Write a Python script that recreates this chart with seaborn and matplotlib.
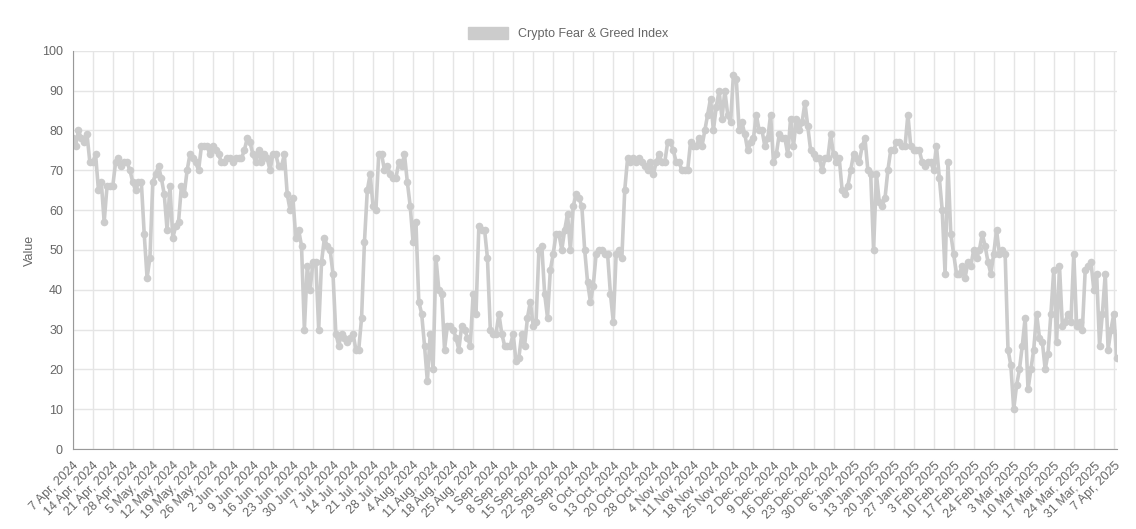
import numpy as np
import pandas as pd
import matplotlib
matplotlib.use("Agg")
from matplotlib import pyplot as plt
from matplotlib.patches import Patch
import seaborn as sns

# daily values, one row per week starting 7 Apr 2024
weeks = [
    [78, 76, 80, 78, 77, 79, 72], [72, 74, 65, 67, 57, 66, 66],
    [66, 72, 73, 71, 72, 72, 70], [67, 65, 67, 67, 54, 43, 48],
    [67, 69, 71, 68, 64, 55, 66], [53, 56, 57, 66, 64, 70, 74],
    [73, 72, 70, 76, 76, 76, 74], [76, 75, 74, 72, 72, 73, 73],
    [72, 73, 73, 73, 75, 78, 77], [74, 72, 75, 72, 74, 73, 70],
    [74, 74, 71, 71, 74, 64, 60], [63, 53, 55, 51, 30, 46, 40],
    [47, 47, 30, 47, 53, 51, 50], [44, 29, 26, 29, 28, 27, 28],
    [29, 25, 25, 33, 52, 65, 69], [61, 60, 74, 74, 70, 71, 69],
    [68, 68, 72, 71, 74, 67, 61], [52, 57, 37, 34, 26, 17, 29],
    [20, 48, 40, 39, 25, 31, 31], [30, 28, 25, 31, 30, 28, 26],
    [39, 34, 56, 55, 55, 48, 30], [29, 29, 34, 29, 26, 26, 26],
    [29, 22, 23, 29, 26, 33, 37], [31, 32, 50, 51, 39, 33, 45],
    [49, 54, 54, 50, 55, 59, 50], [61, 64, 63, 61, 50, 42, 37],
    [41, 49, 50, 50, 49, 49, 39], [32, 49, 50, 48, 65, 73, 72],
    [73, 72, 73, 72, 71, 70, 72], [69, 72, 74, 72, 72, 77, 77],
    [75, 72, 72, 70, 70, 70, 77], [76, 76, 78, 76, 80, 84, 88],
    [80, 86, 90, 83, 90, 84, 82], [94, 93, 80, 82, 79, 75, 77],
    [78, 84, 80, 80, 76, 78, 84], [72, 74, 79, 78, 78, 74, 83],
    [76, 83, 80, 82, 87, 81, 75], [74, 73, 73, 70, 73, 73, 79],
    [74, 72, 73, 65, 64, 66, 70], [74, 73, 72, 76, 78, 70, 69],
    [50, 69, 62, 61, 63, 70, 75], [75, 77, 77, 76, 76, 84, 76],
    [75, 75, 75, 72, 71, 72, 72], [70, 76, 68, 60, 44, 72, 54],
    [49, 44, 44, 46, 43, 47, 46], [50, 48, 50, 54, 51, 47, 44],
    [49, 55, 49, 50, 49, 25, 21], [10, 16, 20, 26, 33, 15, 20],
    [25, 34, 28, 27, 20, 24, 34], [45, 27, 46, 31, 32, 34, 32],
    [49, 31, 32, 30, 45, 46, 47], [40, 44, 26, 34, 44, 25, 30],
    [34, 23],
]
values = [v for w in weeks for v in w]
dates = pd.date_range("2024-04-07", periods=len(values), freq="D")
df = pd.DataFrame({"date": dates, "value": values})

# tick labels as shown (the source switches to Mondays after the late-October clock change)
tick_labels = (
    [f"{d.day} {d.strftime('%b')}, {d.year}" for d in pd.date_range("2024-04-07", "2024-10-20", freq="7D")]
    + [f"{d.day} {d.strftime('%b')}, {d.year}" for d in pd.date_range("2024-10-28", "2025-04-07", freq="7D")]
)

sns.set_style("whitegrid")
plt.rcParams['font.family'] = ['Liberation Sans', 'DejaVu Sans']

fig, ax = plt.subplots(figsize=(11.36, 5.29), dpi=100)
fig.subplots_adjust(left=0.064, right=0.983, top=0.904, bottom=0.151)

line_col = '#cccccc'
sns.lineplot(data=df, x="date", y="value", ax=ax, color=line_col, linewidth=2.6,
             marker='o', markersize=5.5, markeredgewidth=0)

ticks = pd.date_range("2024-04-07", periods=len(tick_labels), freq="7D")
ax.set_xticks(ticks)
ax.set_xticklabels(tick_labels, rotation=45, ha='right', rotation_mode='anchor',
                   fontsize=9, color='#666666')
ax.set_xlim(dates[0], dates[-1])
ax.set_ylim(0, 100)
ax.set_yticks(range(0, 101, 10))
ax.tick_params(axis='y', labelsize=9, colors='#666666')
ax.tick_params(axis='x', length=4, colors='#666666')
ax.set_xlabel("")
ax.set_ylabel("Value", fontsize=9, color='#666666')
ax.grid(color='#e5e5e5', linewidth=1)
for s in ['top', 'right']:
    ax.spines[s].set_visible(False)
for s in ['left', 'bottom']:
    ax.spines[s].set_color('#999999')

handle = Patch(facecolor=line_col, edgecolor=line_col)
fig.legend([handle], ["Crypto Fear & Greed Index"], loc='upper center',
           bbox_to_anchor=(0.5, 0.97), frameon=False, fontsize=9,
           handlelength=3.2, handleheight=1.1, labelcolor='#666666')

fig.savefig("out.png", dpi=100)
